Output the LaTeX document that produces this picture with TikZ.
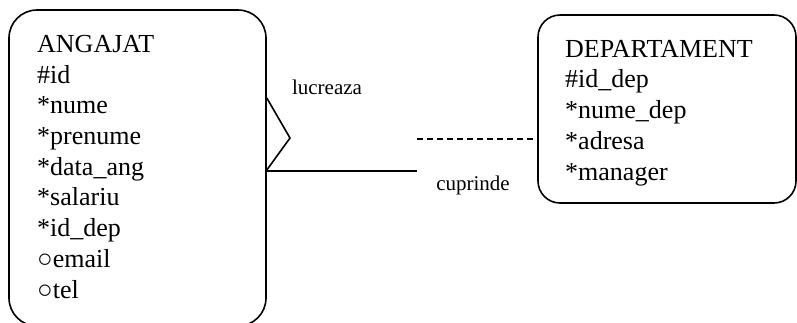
\documentclass[tikz,border=0pt]{standalone}
\usepackage{fontspec}
\setmainfont{Liberation Serif}
\begin{document}
\begin{tikzpicture}[x=1pt,y=-1pt,
  entity/.style={draw,line width=1.6pt,rounded corners=28pt,inner sep=0pt},
  attrs/.style={anchor=base west,align=left,inner sep=0pt,font=\fontsize{26}{30.7}\selectfont},
  rel/.style={inner sep=0pt,font=\fontsize{21}{25}\selectfont},
  conn/.style={line width=1.6pt},
  dashconn/.style={line width=1.6pt,dash pattern=on 6pt off 4pt}]
\clip (0,0) rectangle (797,322);
\fill[white] (0,0) rectangle (797,322);
% boxes
\node[entity,minimum width=257pt,minimum height=316pt] (A) at (137.5,168) {};
\node[entity,rounded corners=22pt,minimum width=258pt,minimum height=188pt] (D) at (667,109) {};
% texts (base = baseline of the last line)
\node[attrs] (At) at (37,298) {ANGAJAT\\\#id\\*nume\\*prenume\\*data\_ang\\*salariu\\*id\_dep\\○email\\○tel};
\node[attrs] (Dt) at (565,180) {DEPARTAMENT\\\#id\_dep\\*nume\_dep\\*adresa\\*manager};
% relationship
\coordinate (c1) at (A.east |- 0,98);
\coordinate (c2) at (290,138);
\coordinate (c3) at (A.east |- 0,170);
\coordinate (h1) at (A.east |- 0,171);
\coordinate (m1) at (417,171);
\coordinate (m2) at (417,139);
\coordinate (d1) at (D.west |- 0,139);
\draw[conn] (c1) -- (c2) -- (c3);
\draw[conn] (h1) -- (m1);
\draw[dashconn] (m2) -- (d1);
\node[rel] (L1) at (327,87) {lucreaza};
\node[rel] (L2) at (473,185) {cuprinde};
\end{tikzpicture}
\end{document}
